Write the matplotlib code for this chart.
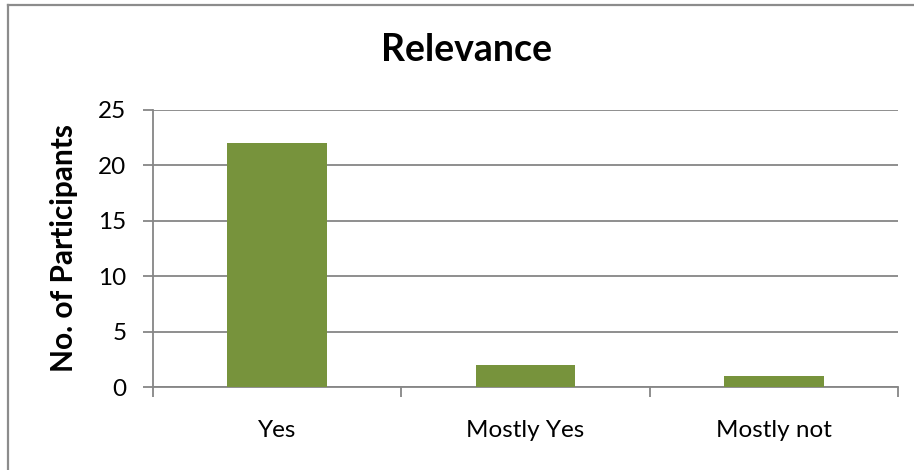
import matplotlib.pyplot as plt
from matplotlib.lines import Line2D

categories = ["Yes", "Mostly Yes", "Mostly not"]
participants = [22, 2, 1]
y_ticks = [0, 5, 10, 15, 20, 25]

plt.rcParams['font.family'] = ['Lato', 'DejaVu Sans']

fig = plt.figure(figsize=(9.14, 4.70), dpi=100)
ax = fig.add_axes([153 / 914, 1 - 387 / 470, (898 - 153) / 914, (387 - 110) / 470])

grey = "#868686"
pos = list(range(len(categories)))
ax.bar(pos, participants, width=0.4, color="#77933C", zorder=3)

ax.set_xlim(-0.5, len(categories) - 0.5)
ax.set_ylim(0, 25)
ax.set_yticks(y_ticks)
ax.yaxis.grid(True, color=grey, linewidth=1.3, zorder=0)

# category boundaries as major ticks, labels on minor ticks
ax.set_xticks([p - 0.5 for p in pos] + [pos[-1] + 0.5])
ax.set_xticklabels([])
ax.set_xticks(pos, minor=True)
ax.set_xticklabels(categories, minor=True, fontsize=17.5)
ax.tick_params(axis="x", which="major", length=7, width=1.3, color=grey, direction="out")
ax.tick_params(axis="x", which="minor", length=0, pad=24)
ax.tick_params(axis="y", length=7, width=1.3, color=grey, labelsize=17.5, pad=12)

for s in ["top", "right"]:
    ax.spines[s].set_visible(False)
for s in ["left", "bottom"]:
    ax.spines[s].set_color(grey)
    ax.spines[s].set_linewidth(1.3)

ax.set_ylabel("No. of Participants", fontsize=21.5, fontweight="bold", labelpad=15)
fig.text(467 / 914, 1 - 50 / 470, "Relevance", ha="center", va="center",
         fontsize=27, fontweight="bold")

# chart outline (only left and top edges visible)
fig.add_artist(Line2D([8 / 914, 8 / 914], [0, 1 - 5 / 470], transform=fig.transFigure,
                      color="#8c8c8c", linewidth=1.6))
fig.add_artist(Line2D([8 / 914, 1], [1 - 5 / 470, 1 - 5 / 470], transform=fig.transFigure,
                      color="#8c8c8c", linewidth=1.6))

plt.savefig("out.png", dpi=100)
plt.close()
